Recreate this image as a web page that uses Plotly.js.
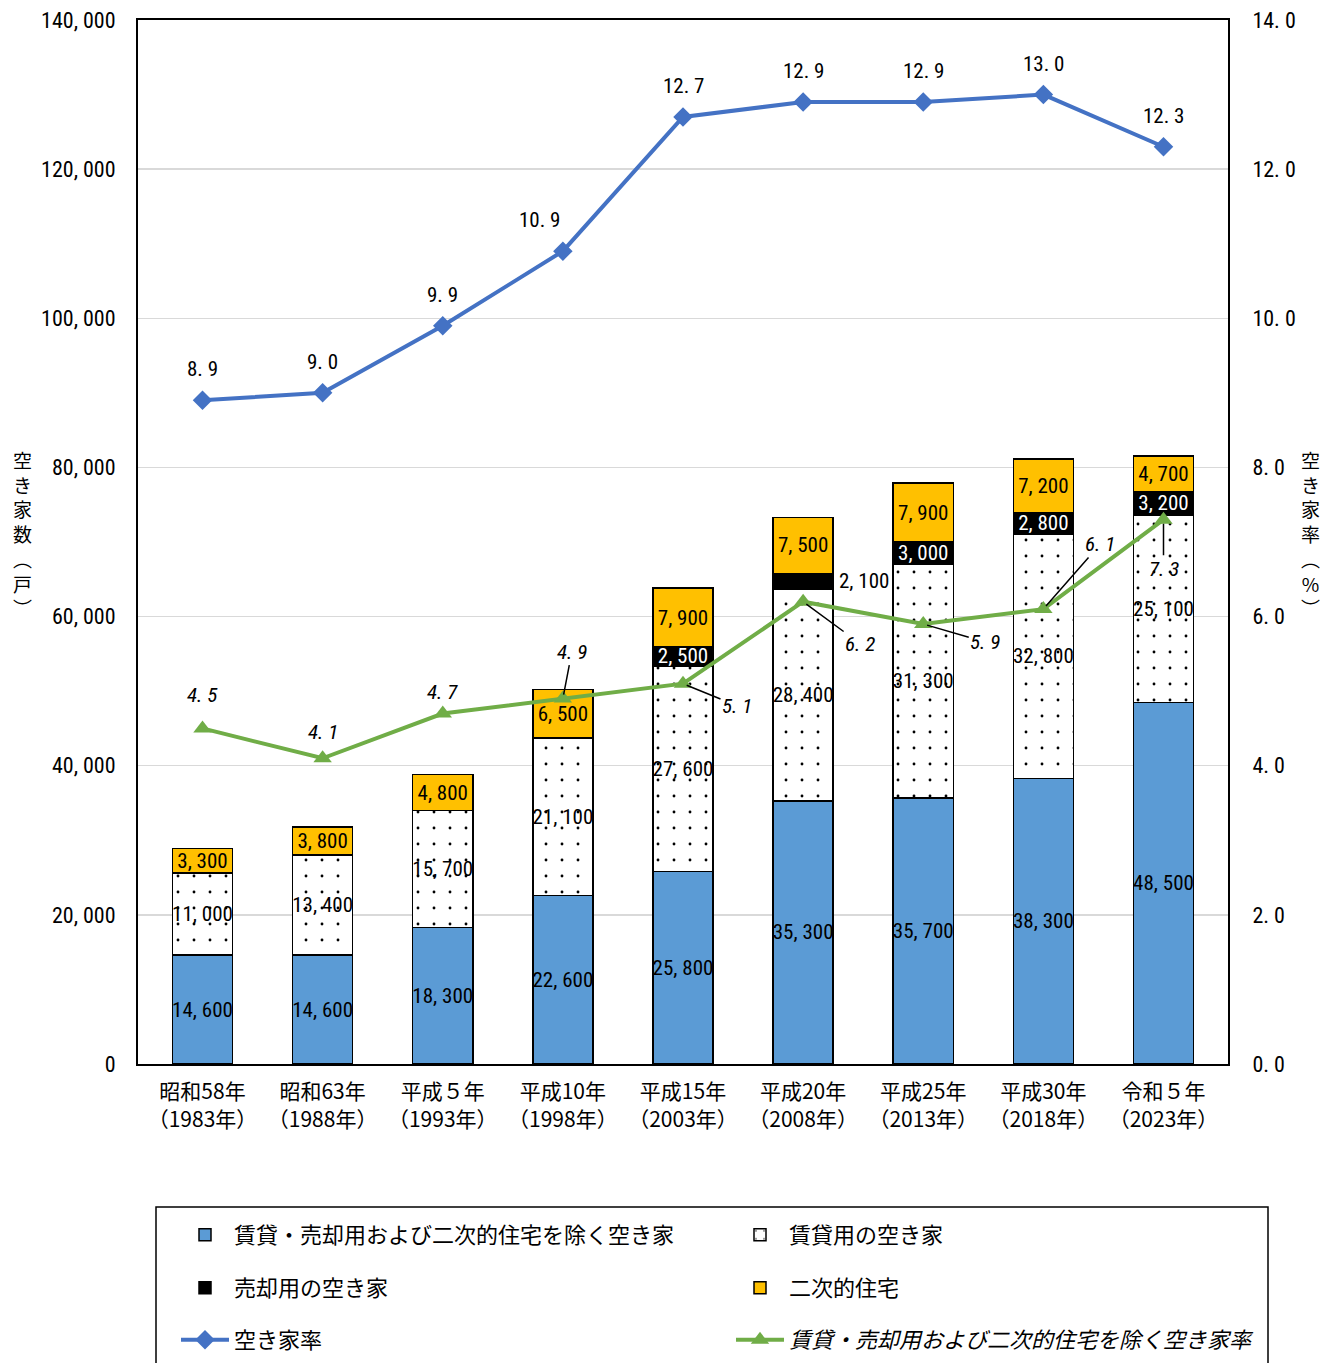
<!DOCTYPE html>
<html><head><meta charset="utf-8">
<script src="https://cdn.plot.ly/plotly-3.0.1.min.js"></script>
<style>html,body{margin:0;padding:0;background:#fff}</style>
</head><body>
<div id="chart" style="width:1336px;height:1363px"></div>
<script>
// ---- data ----
const categories = ['昭和58年<br>（1983年）','昭和63年<br>（1988年）','平成５年<br>（1993年）','平成10年<br>（1998年）','平成15年<br>（2003年）','平成20年<br>（2008年）','平成25年<br>（2013年）','平成30年<br>（2018年）','令和５年<br>（2023年）'];
const otherVacant = [14600,14600,18300,22600,25800,35300,35700,38300,48500];
const rentalVacant = [11000,13400,15700,21100,27600,28400,31300,32800,25100];
const saleVacant = [null,null,null,null,2500,2100,3000,2800,3200];
const secondaryHomes = [3300,3800,4800,6500,7900,7500,7900,7200,4700];
const vacancyRate = [8.9,9.0,9.9,10.9,12.7,12.9,12.9,13.0,12.3];
const otherRate = [4.5,4.1,4.7,4.9,5.1,6.2,5.9,6.1,7.3];
const leftTicks = [0,20000,40000,60000,80000,100000,120000,140000];
const rightTicks = [0,2,4,6,8,10,12,14];
const seriesNames = ['賃貸・売却用および二次的住宅を除く空き家','賃貸用の空き家','売却用の空き家','二次的住宅','空き家率','賃貸・売却用および二次的住宅を除く空き家率'];
const leftTitleText = '空き家数︵戸︶';
const rightTitleText = '空き家率︵%︶';

// ---- formatting / styles ----
const NUM = "'Roboto Condensed','Liberation Sans Narrow','Liberation Sans',Arial,sans-serif";
const CJK = "'Noto Sans CJK JP',sans-serif";
const fmtInt = v => (v == null ? '' : v.toLocaleString('en-US').replace(',', ', '));
const fmtDec = v => v.toFixed(1).replace('.', '. ');
const vertical = s => Array.from(s).join('<br>');
const px2x = p => (p - 138) / 1090;
const px2y = p => (1064 - p) / 1044;

const barLine = {color:'#000', width:1.5};
const inFont = c => ({family:NUM, size:21, color:c});
const barCommon = {type:'bar', x:categories, textposition:'inside', insidetextanchor:'middle', textangle:0, constraintext:'none', hoverinfo:'skip'};

const saleText = saleVacant.map((v,i) => i === 5 ? '' : fmtInt(v));

const traces = [
  Object.assign({}, barCommon, {name:seriesNames[0], y:otherVacant, text:otherVacant.map(fmtInt), textfont:inFont('#000'),
    marker:{color:'#5B9BD5', line:barLine}, legend:'legend'}),
  Object.assign({}, barCommon, {name:seriesNames[1], y:rentalVacant, text:rentalVacant.map(fmtInt), textfont:inFont('#000'),
    marker:{color:'#fff', line:barLine, pattern:{shape:'.', size:16, solidity:0.025, fgcolor:'#000', bgcolor:'#fff', fillmode:'replace'}}, legend:'legend2'}),
  Object.assign({}, barCommon, {name:seriesNames[2], y:saleVacant, text:saleText, textfont:inFont('#fff'),
    marker:{color:'#000', line:barLine}, legend:'legend3'}),
  Object.assign({}, barCommon, {name:seriesNames[3], y:secondaryHomes, text:secondaryHomes.map(fmtInt), textfont:inFont('#000'),
    marker:{color:'#FFC000', line:barLine}, legend:'legend4'}),
  {type:'scatter', mode:'lines+markers', name:seriesNames[4], x:categories, y:vacancyRate, yaxis:'y2',
    line:{color:'#4472C4', width:4}, marker:{symbol:'diamond', size:15, color:'#4472C4'}, legend:'legend5', hoverinfo:'skip'},
  {type:'scatter', mode:'lines+markers', name:'<i>'+seriesNames[5]+'</i>', x:categories, y:otherRate, yaxis:'y2',
    line:{color:'#70AD47', width:4}, marker:{symbol:'triangle-up', size:16, color:'#70AD47'}, legend:'legend6', hoverinfo:'skip'}
];

// ---- annotations ----
const annotations = [];
const blueXShift = [0,0,0,-23,0,0,0,0,0];
vacancyRate.forEach((v,i) => annotations.push({x:categories[i], y:v, xref:'x', yref:'y2', text:fmtDec(v), showarrow:false,
  yshift:31, xshift:blueXShift[i], font:{family:NUM, size:21, color:'#000'}}));
// green label offsets: [ax, ay, leader]
const greenOff = [[0,-33,false],[0,-26,false],[0,-22,false],[9,-47,true],[54,22,true],[57,42,true],[62,18,true],[57,-65,true],[0,49,true]];
otherRate.forEach((v,i) => {
  const o = greenOff[i];
  const a = {x:categories[i], y:v, xref:'x', yref:'y2', text:'<i>'+fmtDec(v)+'</i>', font:{family:NUM, size:21, color:'#000'}};
  if (o[2]) { Object.assign(a, {showarrow:true, arrowhead:0, arrowwidth:1.5, arrowcolor:'#000', ax:o[0], ay:o[1], standoff:4}); }
  else { Object.assign(a, {showarrow:false, yshift:-o[1]}); }
  annotations.push(a);
});
// outside label for small black segment
annotations.push({x:categories[5], y:otherVacant[5]+rentalVacant[5]+saleVacant[5]/2, xref:'x', yref:'y', text:fmtInt(saleVacant[5]),
  showarrow:false, xshift:61, font:{family:NUM, size:21, color:'#000'}});
// vertical axis titles
annotations.push({xref:'paper', yref:'paper', x:px2x(22), y:px2y(533), text:vertical(leftTitleText), showarrow:false,
  xanchor:'center', yanchor:'middle', font:{family:CJK, size:19, color:'#000'}});
annotations.push({xref:'paper', yref:'paper', x:px2x(1310), y:px2y(533), text:vertical(rightTitleText), showarrow:false,
  xanchor:'center', yanchor:'middle', font:{family:CJK, size:19, color:'#000'}});

// ---- legends ----
const legFont = {family:CJK, size:22, color:'#000'};
const mkLeg = (px, py) => ({x:px2x(px), y:px2y(py), xanchor:'left', yanchor:'middle', orientation:'v', font:legFont,
  bgcolor:'rgba(0,0,0,0)', borderwidth:0, itemwidth:48});
const col1 = 176, col2 = 731, rows = [1235,1288,1340];

const layout = {
  width:1336, height:1363,
  margin:{l:138, r:108, t:20, b:299, pad:0, autoexpand:false},
  paper_bgcolor:'#fff', plot_bgcolor:'#fff',
  barmode:'stack', bargap:0.5,
  showlegend:true,
  legend:mkLeg(col1, rows[0]), legend2:mkLeg(col2, rows[0]),
  legend3:mkLeg(col1, rows[1]), legend4:mkLeg(col2, rows[1]),
  legend5:mkLeg(col1, rows[2]), legend6:mkLeg(col2, rows[2]),
  xaxis:{type:'category', showline:true, linecolor:'#000', linewidth:2, mirror:true, ticks:'', showgrid:false,
    tickfont:{family:CJK, size:21, color:'#000'}, ticklabelstandoff:8, fixedrange:true},
  yaxis:{range:[0,140000], tickmode:'array', tickvals:leftTicks, ticktext:leftTicks.map(fmtInt), showline:true, linecolor:'#000', linewidth:2,
    gridcolor:'#D9D9D9', gridwidth:1.5, zeroline:false, ticks:'', tickfont:{family:NUM, size:22, color:'#000'}, ticklabelstandoff:16, fixedrange:true},
  yaxis2:{overlaying:'y', side:'right', range:[0,14], tickmode:'array', tickvals:rightTicks, ticktext:rightTicks.map(fmtDec), showline:true,
    linecolor:'#000', linewidth:2, showgrid:false, zeroline:false, ticks:'', tickfont:{family:NUM, size:22, color:'#000'}, ticklabelstandoff:18, fixedrange:true},
  shapes:[{type:'rect', xref:'paper', yref:'paper', x0:px2x(156), x1:px2x(1268), y0:px2y(1207), y1:px2y(1375), line:{color:'#000', width:1.5}, fillcolor:'rgba(0,0,0,0)'}],
  annotations:annotations
};

Plotly.newPlot('chart', traces, layout, {displayModeBar:false, staticPlot:true});
</script>
</body></html>
